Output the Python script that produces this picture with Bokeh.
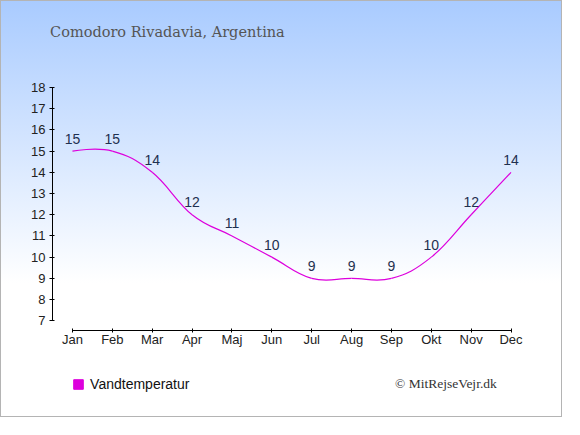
from bokeh.plotting import figure
from bokeh.models import (Range1d, FixedTicker, Legend, LegendItem, ColumnDataSource,
                          Label, LinearAxis)
from bokeh.core.properties import value
from bokeh.embed import file_html
from bokeh.resources import INLINE

months = ["Jan", "Feb", "Mar", "Apr", "Maj", "Jun", "Jul", "Aug", "Sep", "Okt", "Nov", "Dec"]
water_temp = [15, 15, 14, 12, 11, 10, 9, 9, 9, 10, 12, 14]
y_ticks = [7, 8, 9, 10, 11, 12, 13, 14, 15, 16, 17, 18]
title_text = "Comodoro Rivadavia, Argentina"
series_name = "Vandtemperatur"
credit_text = "\u00a9 MitRejseVejr.dk"

LINE_COLOR = "#dd00dd"
LABEL_COLOR = "#1f3050"

xs = list(range(len(months)))


def spline_segments(x, y, smoothing=1.5):
    n = len(x)
    denom = smoothing + 1
    left = [None] * n
    right = [None] * n
    for i in range(1, n - 1):
        lx = (smoothing * x[i] + x[i - 1]) / denom
        ly = (smoothing * y[i] + y[i - 1]) / denom
        rx = (smoothing * x[i] + x[i + 1]) / denom
        ry = (smoothing * y[i] + y[i + 1]) / denom
        corr = 0.0
        if rx != lx:
            corr = ((ry - ly) * (rx - x[i])) / (rx - lx) + y[i] - ry
        left[i] = (lx, ly + corr)
        right[i] = (rx, ry + corr)
    seg = dict(x0=[], y0=[], x1=[], y1=[], cx0=[], cy0=[], cx1=[], cy1=[])
    for i in range(1, n):
        c0 = right[i - 1] if right[i - 1] else (x[i - 1], y[i - 1])
        c1 = left[i] if left[i] else (x[i], y[i])
        seg["x0"].append(x[i - 1]); seg["y0"].append(y[i - 1])
        seg["x1"].append(x[i]); seg["y1"].append(y[i])
        seg["cx0"].append(c0[0]); seg["cy0"].append(c0[1])
        seg["cx1"].append(c1[0]); seg["cy1"].append(c1[1])
    return seg


W, H = 562, 417
p = figure(width=W, height=H, output_backend="svg", toolbar_location=None,
           x_range=Range1d(-1.78, 12.316), y_range=Range1d(2.392, 22.054),
           x_axis_location=None, y_axis_location=None)
p.styles = {"background": "linear-gradient(to bottom, #a9cbff 0%, #ffffff 68%, #ffffff 100%)",
            "border": "1px solid #b4b4b4"}
p.background_fill_alpha = 0
p.border_fill_alpha = 0
p.outline_line_color = None
p.min_border = 0
p.min_border_left = 0
p.min_border_right = 0
p.min_border_top = 0
p.min_border_bottom = 0
p.xgrid.visible = False
p.ygrid.visible = False

# axes, fixed at their positions inside the frame
xaxis = LinearAxis(fixed_location=6.546, bounds=(0, len(months) - 1),
                   ticker=FixedTicker(ticks=xs),
                   major_label_overrides={i: m for i, m in enumerate(months)},
                   major_tick_in=2, major_tick_out=2, major_label_standoff=0)
yaxis = LinearAxis(fixed_location=-0.5, bounds=(y_ticks[0], y_ticks[-1]),
                   ticker=FixedTicker(ticks=y_ticks),
                   major_tick_in=2, major_tick_out=3, major_label_standoff=4)
for ax in (xaxis, yaxis):
    ax.minor_tick_line_color = None
    ax.axis_line_color = "#000000"
    ax.major_tick_line_color = "#000000"
    ax.major_label_text_font = "Liberation Sans"
    ax.major_label_text_font_size = "13px"
    ax.major_label_text_color = "#222222"
p.add_layout(xaxis, "below")
p.add_layout(yaxis, "left")

# smoothed line
seg = spline_segments(xs, water_temp)
p.bezier(source=ColumnDataSource(seg), x0="x0", y0="y0", x1="x1", y1="y1",
         cx0="cx0", cy0="cy0", cx1="cx1", cy1="cy1",
         line_color=LINE_COLOR, line_width=1.2)

# value labels
p.text(x=xs, y=water_temp, text=[str(v) for v in water_temp], y_offset=-12.5,
       text_align="center", text_baseline="middle", text_color=LABEL_COLOR,
       text_font=value("Liberation Sans"), text_font_size="14px")

# legend marker (square); zero-size points so only the legend swatch shows
sq = p.scatter(x=xs, y=water_temp, marker="square", size=0,
               fill_color=LINE_COLOR, line_color=LINE_COLOR)
legend = Legend(items=[LegendItem(label=series_name, renderers=[sq])],
                location=(65.1, 21.9), padding=0, margin=0, spacing=0,
                glyph_width=24, glyph_height=24, label_standoff=0,
                label_text_font="Liberation Sans", label_text_font_size="14px",
                label_text_color="#111111", border_line_color=None,
                background_fill_alpha=0)
p.add_layout(legend, "center")

# title and credit
p.add_layout(Label(x=48.6, y=H - 30.3, x_units="screen", y_units="screen", text=title_text,
                   text_font="DejaVu Serif", text_font_size="14.5px", text_color="#555555",
                   text_baseline="middle"))
p.add_layout(Label(x=393.5, y=H - 382.3, x_units="screen", y_units="screen", text=credit_text,
                   text_font="Liberation Serif", text_font_size="13.5px", text_color="#333333",
                   text_baseline="middle"))

open("out.html", "w").write(file_html(p, INLINE))
